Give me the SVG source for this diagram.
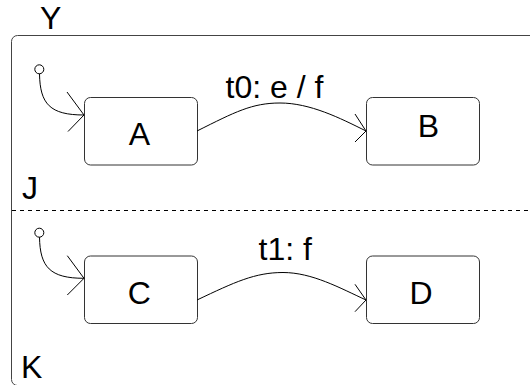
<svg xmlns="http://www.w3.org/2000/svg" width="530" height="385" viewBox="0 0 530 385">
<style>
text{font-family:"Liberation Sans",Arial,sans-serif;font-size:32px;fill:#000}
.st{fill:#fff;stroke:#333;stroke-width:1}
.frame{fill:#fff;stroke:#444;stroke-width:1}
.edge{fill:none;stroke:#000;stroke-width:1}
.init{fill:#fff;stroke:#000;stroke-width:1}
.mid{text-anchor:middle}
</style>
<rect width="530" height="385" fill="#fff"/>
<g id="Y">
<rect class="frame" x="11.5" y="35.5" width="540" height="350" rx="6"/>
<text x="40" y="29">Y</text>
</g>
<g id="J">
<line x1="12" y1="210.5" x2="530" y2="210.5" stroke="#000" stroke-width="1" stroke-dasharray="4,4"/>
<text x="22" y="199">J</text>
</g>
<g id="K">
<text x="21" y="378">K</text>
</g>
<g id="initJ"><circle class="init" cx="39.3" cy="69.3" r="4.5"/></g>
<g id="initK"><circle class="init" cx="39.3" cy="232.7" r="4.5"/></g>
<g id="A"><rect class="st" x="84.5" y="97.5" width="113" height="67.5" rx="6"/><text class="mid" x="139.5" y="145">A</text></g>
<g id="B"><rect class="st" x="366.5" y="97.5" width="113" height="67.5" rx="6"/><text class="mid" x="428.3" y="137">B</text></g>
<g id="C"><rect class="st" x="84.5" y="256" width="113" height="67.5" rx="6"/><text class="mid" x="139.3" y="303.5">C</text></g>
<g id="D"><rect class="st" x="366.5" y="256" width="113" height="67.5" rx="6"/><text class="mid" x="421" y="303.5">D</text></g>
<g id="connectors">
<path class="edge" d="M39.5,73.8 C40,104 50,115 84,115"/>
<path class="edge" d="M67,92 L84,115 L68,131.5"/>
<path class="edge" d="M39.5,237.2 C40,267 50,278.3 84,278.3"/>
<path class="edge" d="M67.3,255.7 L84,278.3 L67.3,295"/>
<path class="edge" d="M197,131 C235,112 252,103 280,103 C310,103 340,118 366,131"/>
<path class="edge" d="M355,114 L366,131 L355,142"/>
<text x="225.5" y="97.5">t0: e / f</text>
<path class="edge" d="M197,300 C235,282 255,272.5 283,272.5 C312,272.5 340,288 366,300"/>
<path class="edge" d="M355,284.3 L366,300 L355,311.7"/>
<text x="258.5" y="260">t1: f</text>
</g>
</svg>
